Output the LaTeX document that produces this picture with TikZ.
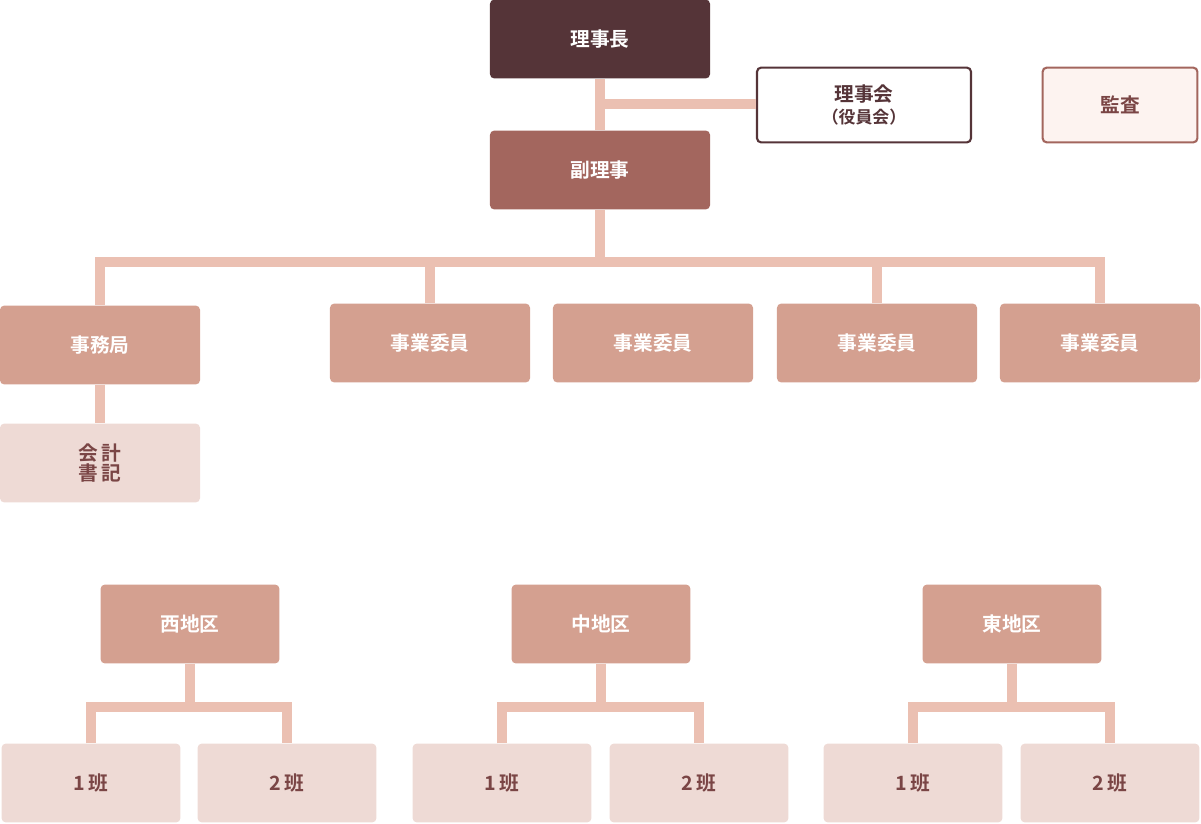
\documentclass[tikz,border=0pt]{standalone}
\usepackage{fontspec}
\setmainfont{Noto Sans CJK JP}[BoldFont={Noto Sans CJK JP Bold}]
\usetikzlibrary{positioning}
\definecolor{cdark}{HTML}{553438}
\definecolor{cmid}{HTML}{A3665E}
\definecolor{cbox}{HTML}{D4A090}
\definecolor{clight}{HTML}{EEDAD5}
\definecolor{cline}{HTML}{EBC0B2}
\definecolor{ctext}{HTML}{7A4545}
\definecolor{cpale}{HTML}{FDF3F0}
\begin{document}
\begin{tikzpicture}[
    x = 0.025cm,
    y = -0.025cm,
    font = \bfseries\fontsize{14}{18}\selectfont,
    box/.style = {
      rectangle,
      rounded corners = 3pt,
      minimum width = 5cm,
      minimum height = 1.97cm,
      inner sep = 0pt,
      align = center
    },
    head/.style = {box, fill = cdark, text = white, minimum width = 5.5cm},
    sub/.style = {box, fill = cmid, text = white, minimum width = 5.5cm},
    unit/.style = {box, fill = cbox, text = white},
    area/.style = {box, fill = cbox, text = white, minimum width = 4.47cm},
    team/.style = {box, fill = clight, text = ctext, minimum width = 4.47cm},
    link/.style = {draw = cline, line width = 7pt}
  ]
  \useasboundingbox (0,0) rectangle (1201,823);

  % top
  \node[head] (chair) at (600,39) {理事長};
  \node[sub] (vice) at (600,170) {副理事};
  \node[box, fill = white, draw = cdark, line width = 1.5pt, text = cdark,
        minimum width = 5.35cm, minimum height = 1.87cm] (board) at (864,105)
        {理事会\\[-2pt]{\fontsize{12}{14}\selectfont （役員会）}};
  \node[box, fill = cpale, draw = cmid, line width = 1.5pt, text = ctext,
        minimum width = 3.87cm, minimum height = 1.87cm] (audit) at (1120,105) {監査};

  % second row
  \node[unit] (office) at (100,345) {事務局};
  \node[unit] (com1) at (430,343) {事業委員};
  \node[unit] (com2) at (653,343) {事業委員};
  \node[unit] (com3) at (877,343) {事業委員};
  \node[unit] (com4) at (1100,343) {事業委員};
  \node[team, minimum width = 5cm] (clerk) at (100,463) {会\,計\\[-4pt]書\,記};

  % districts
  \node[area] (west) at (190,624) {西地区};
  \node[area] (mid) at (601,624) {中地区};
  \node[area] (east) at (1012,624) {東地区};

  \node[team] (w1) at (91,783) {1\,班};
  \node[team] (w2) at (287,783) {2\,班};
  \node[team] (m1) at (502,783) {1\,班};
  \node[team] (m2) at (699,783) {2\,班};
  \node[team] (e1) at (913,783) {1\,班};
  \node[team] (e2) at (1110,783) {2\,班};

  \coordinate (bus) at (600,262);
  \coordinate (side) at (600,104);

  \begin{scope}[on background layer/.try]
  \end{scope}

  % connectors
  \draw[link] (chair.south) -- (vice.north);
  \draw[link] (side) -- (side -| board.west);
  \draw[link] (vice.south) -- (bus);
  \draw[link] (office.north) |- (bus) -| (com4.north);
  \draw[link] (com1.north) -- (com1.north |- bus);
  \draw[link] (com3.north) -- (com3.north |- bus);
  \draw[link] (office.south) -- (clerk.north);

  \foreach \d/\a/\b in {west/w1/w2, mid/m1/m2, east/e1/e2} {
    \draw[link] (\d.south) -- ++(0,43);
    \draw[link] (\a.north) |- ([yshift = -43*0.025cm]\d.south) -| (\b.north);
  }
\end{tikzpicture}
\end{document}
